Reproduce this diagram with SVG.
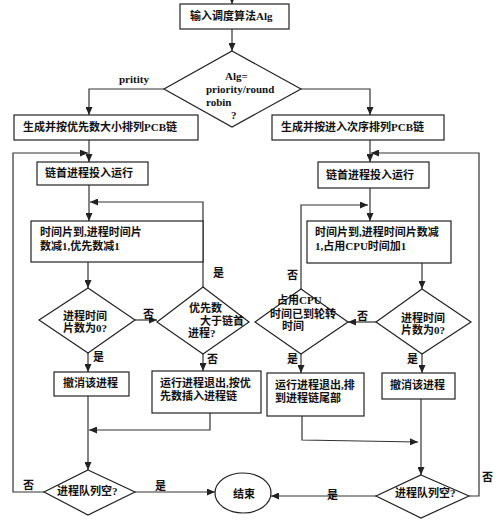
<svg xmlns="http://www.w3.org/2000/svg" width="500" height="520" viewBox="0 0 500 520">
<defs>
<marker id="arr" markerWidth="8" markerHeight="7" refX="8" refY="3.5" orient="auto" markerUnits="userSpaceOnUse">
<path d="M0,0 L8,3.5 L0,7 z" fill="#222"/>
</marker>
<style>
.box{fill:#fff;stroke:#222;stroke-width:1.2}
.ln{fill:none;stroke:#333;stroke-width:1.2;marker-end:url(#arr)}
text{font-family:"Liberation Serif","Noto Sans CJK SC",serif;font-size:11px;font-weight:bold;fill:#111}
.lat{font-size:11px}
</style>
</defs>
<rect width="500" height="520" fill="#fff"/>
<g id="connectors">
<path class="ln" d="M232,-5 V4"/>
<path class="ln" d="M232,29 V51"/>
<path class="ln" d="M164,89 H89 V115"/>
<path class="ln" d="M301,89 H370 V115"/>
<path class="ln" d="M89,140 V162"/>
<path class="ln" d="M370,140 V162"/>
<path class="ln" d="M44,492 H13 V153 H88"/>
<path class="ln" d="M469,496 H479 V153 H371"/>
<path class="ln" d="M89,185 V221"/>
<path class="ln" d="M203,287 V202 H90"/>
<path class="ln" d="M88,262 V288"/>
<path class="ln" d="M135,320 H157"/>
<path class="ln" d="M88,353 V372"/>
<path class="ln" d="M203,354 V371"/>
<path class="ln" d="M88,396 V470"/>
<path class="ln" d="M210,413 V430 H89"/>
<path class="ln" d="M135,492 H215"/>
<path class="ln" d="M370,188 V221"/>
<path class="ln" d="M301,289 V205 H368"/>
<path class="ln" d="M422,263 V289"/>
<path class="ln" d="M376,322 H348"/>
<path class="ln" d="M301,354 V373"/>
<path class="ln" d="M422,354 V373"/>
<path class="ln" d="M302,416 V440 L418,442"/>
<path class="ln" d="M421,399 V475"/>
<path class="ln" d="M376,496 H271"/>
</g>
<g id="labels">
<text x="119" y="83" class="lat">pritity</text>
<text x="143" y="318">否</text>
<text x="213" y="277">是</text>
<text x="93" y="361">是</text>
<text x="207" y="363">否</text>
<text x="357" y="320">否</text>
<text x="287" y="279">否</text>
<text x="287" y="363">是</text>
<text x="407" y="363">是</text>
<text x="23" y="489">否</text>
<text x="155" y="490">是</text>
<text x="327" y="499">是</text>
<text x="482" y="481">否</text>
</g>
<g id="n_input">
<rect class="box" x="180" y="4" width="109" height="25"/>
<text x="190" y="20">输入调度算法Alg</text>
</g>
<g id="n_alg">
<polygon class="box" points="232,51 301,89 232,127 164,89"/>
<text x="225" y="80" class="lat">Alg=</text>
<text x="206" y="93" class="lat">priority/round</text>
<text x="206" y="106" class="lat">robin</text>
<text x="231" y="119" class="lat">?</text>
</g>
<g id="n_genL">
<rect class="box" x="14" y="115" width="184" height="25"/>
<text x="23" y="131">生成并按优先数大小排列PCB链</text>
</g>
<g id="n_genR">
<rect class="box" x="272" y="115" width="172" height="25"/>
<text x="281" y="131">生成并按进入次序排列PCB链</text>
</g>
<g id="n_runL">
<rect class="box" x="37" y="162" width="111" height="23"/>
<text x="45" y="177">链首进程投入运行</text>
</g>
<g id="n_runR">
<rect class="box" x="318" y="162" width="111" height="26"/>
<text x="326" y="179">链首进程投入运行</text>
</g>
<g id="n_tickL">
<rect class="box" x="31" y="221" width="172" height="41"/>
<text x="40" y="236">时间片到,进程时间片</text>
<text x="40" y="250">数减1,优先数减1</text>
</g>
<g id="n_tickR">
<rect class="box" x="307" y="221" width="144" height="42"/>
<text x="315" y="236">时间片到,进程时间片数减</text>
<text x="315" y="250">1,占用CPU时间加1</text>
</g>
<g id="n_zeroL">
<polygon class="box" points="88,288 135,320 88,353 39,320"/>
<text x="63" y="320">进程时间</text>
<text x="63" y="332">片数为0?</text>
</g>
<g id="n_prio">
<polygon class="box" points="203,287 249,322 203,354 157,322"/>
<text x="189" y="312">优先数</text>
<text x="200" y="325">大于链首</text>
<text x="188" y="337">进程?</text>
</g>
<g id="n_zeroR">
<polygon class="box" points="422,289 471,322 422,354 376,322"/>
<text x="401" y="322">进程时间</text>
<text x="401" y="334">片数为0?</text>
</g>
<g id="n_cpu">
<polygon class="box" points="301,289 348,322 301,354 255,322"/>
<text x="277" y="304">占用CPU</text>
<text x="270" y="318">时间已到轮转</text>
<text x="282" y="330">时间</text>
</g>
<g id="n_killL">
<rect class="box" x="54" y="372" width="75" height="24"/>
<text x="63" y="387">撤消该进程</text>
</g>
<g id="n_insert">
<rect class="box" x="152" y="371" width="109" height="42"/>
<text x="160" y="387">运行进程退出,按优</text>
<text x="160" y="400">先数插入进程链</text>
</g>
<g id="n_tail">
<rect class="box" x="267" y="373" width="97" height="43"/>
<text x="275" y="389">运行进程退出,排</text>
<text x="275" y="402">到进程链尾部</text>
</g>
<g id="n_killR">
<rect class="box" x="382" y="373" width="73" height="26"/>
<text x="390" y="389">撤消该进程</text>
</g>
<g id="n_emptyL">
<polygon class="box" points="88,470 135,492 88,515 44,492"/>
<text x="57" y="495">进程队列空?</text>
</g>
<g id="n_emptyR">
<polygon class="box" points="421,475 469,496 421,518 376,496"/>
<text x="395" y="497">进程队列空?</text>
</g>
<g id="n_end">
<ellipse class="box" cx="243" cy="493" rx="28" ry="20"/>
<text x="233" y="498">结束</text>
</g>
</svg>
